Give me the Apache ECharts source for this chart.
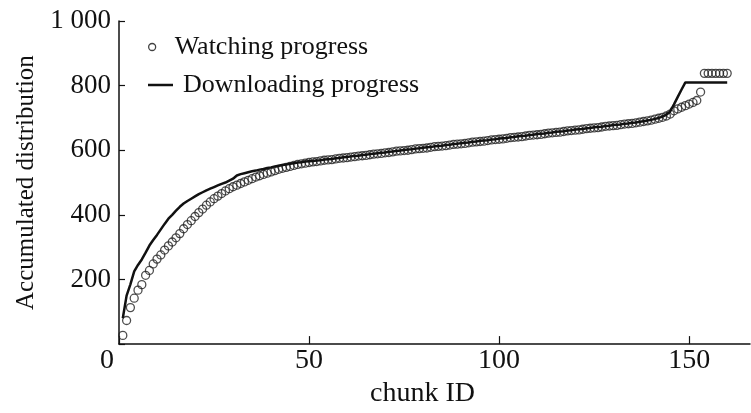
<!DOCTYPE html>
<html>
<head>
<meta charset="utf-8">
<script src="https://cdn.jsdelivr.net/npm/echarts@6/dist/echarts.min.js"></script>
<style>
  html, body { margin: 0; padding: 0; background: #fff; }
  #chart { width: 751px; height: 413px; }
</style>
</head>
<body>
<div id="chart"></div>
<script>
// Accumulated distribution per chunk (chunk IDs start at 1)
const watchingProgress = [
  27, 73, 113, 142, 167, 184, 213, 228, 248, 263,
  276, 291, 304, 316, 329, 342, 357, 370, 382, 395,
  407, 418, 430, 440, 450, 458, 466, 474, 481, 487,
  492, 497, 502, 507, 512, 517, 521, 525, 529, 533,
  537, 541, 544, 547, 550, 553, 556, 558, 560, 562,
  564, 565, 567, 569, 570, 571, 573, 575, 576, 577,
  579, 580, 582, 583, 584, 586, 588, 589, 590, 592,
  593, 595, 597, 598, 599, 600, 602, 604, 605, 606,
  607, 609, 611, 612, 613, 614, 616, 618, 619, 620,
  621, 623, 625, 626, 627, 628, 630, 632, 633, 634,
  635, 637, 639, 640, 641, 642, 644, 646, 647, 648,
  649, 651, 653, 654, 655, 656, 658, 660, 661, 662,
  663, 665, 667, 668, 669, 670, 672, 674, 675, 676,
  677, 679, 681, 682, 683, 685, 687, 689, 691, 693,
  696, 699, 702, 706, 712, 722, 728, 733, 738, 743,
  748, 754, 780, 838, 838, 838, 838, 838, 838, 838
];
const downloadingProgress = [
  80, 150, 185, 225, 245, 262, 283, 305, 322, 338,
  355, 372, 388, 400, 413, 425, 435, 443, 450, 457,
  464, 470, 476, 481, 486, 491, 496, 500, 506, 512,
  522, 526, 529, 532, 535, 537, 540, 542, 545, 547,
  550, 552, 554, 556, 558, 560, 562, 563, 565, 566,
  567, 568, 569, 571, 572, 573, 575, 576, 578, 579,
  581, 582, 583, 585, 586, 588, 589, 591, 592, 593,
  595, 596, 598, 599, 601, 602, 603, 605, 606, 608,
  609, 610, 612, 613, 614, 616, 617, 619, 620, 622,
  623, 624, 626, 627, 629, 630, 631, 633, 634, 636,
  637, 638, 640, 641, 643, 644, 645, 647, 648, 650,
  651, 652, 654, 655, 657, 658, 659, 661, 662, 664,
  665, 666, 668, 669, 671, 672, 673, 675, 676, 678,
  679, 680, 682, 683, 685, 686, 688, 690, 692, 694,
  697, 700, 704, 710, 720, 742, 765, 788, 810, 810,
  810, 810, 810, 810, 810, 810, 810, 810, 810, 810
];
const seriesNames = ['Watching progress', 'Downloading progress'];
const xTickLabels = { 0: '{o|0}', 50: '50', 100: '100', 150: '150' };
const yTickLabels = { 0: '', 200: '200', 400: '400', 600: '600', 800: '800', 1000: '1 000' };

const FONT = '"Liberation Serif", "Times New Roman", serif';
const INK = '#111';

const toPoints = arr => arr.map((v, i) => [i + 1, v]);

const legendText = { fontFamily: FONT, fontSize: 26, color: INK, padding: [0, 0, 0, 5] };

const chart = echarts.init(document.getElementById('chart'), null, { renderer: 'canvas' });
chart.setOption({
  backgroundColor: '#fff',
  animation: false,
  grid: { left: 119, right: 1, top: 21, bottom: 62, containLabel: false },
  legend: [
    {
      left: 143, top: 29,
      itemWidth: 25, itemHeight: 7,
      textStyle: legendText,
      data: [{ name: seriesNames[0], icon: 'circle',
        itemStyle: { color: 'transparent', borderColor: INK, borderWidth: 1.3 } }]
    },
    {
      left: 143, top: 67,
      itemWidth: 25, itemHeight: 2.5,
      textStyle: legendText,
      data: [{ name: seriesNames[1], icon: 'rect', itemStyle: { color: INK } }]
    }
  ],
  xAxis: {
    type: 'value',
    min: 0, max: 166, interval: 50,
    name: 'chunk ID',
    nameLocation: 'middle',
    nameGap: 27,
    nameTextStyle: { fontFamily: FONT, fontSize: 28, color: INK, padding: [0, 24, 0, 0] },
    axisLine: { lineStyle: { color: INK, width: 1.5 } },
    axisTick: { inside: true, length: 8, lineStyle: { color: INK, width: 1.2 } },
    axisLabel: {
      fontFamily: FONT, fontSize: 28, color: INK, margin: 3,
      showMaxLabel: false,
      formatter: v => xTickLabels[v] || '',
      rich: { o: { fontFamily: FONT, fontSize: 28, color: INK, padding: [0, 24, 0, 0] } }
    },
    splitLine: { show: false }
  },
  yAxis: {
    type: 'value',
    min: 0, max: 1000, interval: 200,
    name: 'Accumulated distribution',
    nameLocation: 'middle',
    nameGap: 76,
    nameRotate: 90,
    nameTextStyle: { fontFamily: FONT, fontSize: 25, color: INK },
    axisLine: { show: true, lineStyle: { color: INK, width: 1.5 } },
    axisTick: { show: true, inside: true, length: 6, lineStyle: { color: INK, width: 1.2 } },
    axisLabel: {
      fontFamily: FONT, fontSize: 27, color: INK, margin: 8,
      formatter: v => yTickLabels[v]
    },
    splitLine: { show: false }
  },
  series: [
    {
      name: seriesNames[0],
      type: 'scatter',
      symbol: 'circle',
      symbolSize: 8,
      itemStyle: { color: 'transparent', borderColor: '#222', borderWidth: 1.3 },
      data: toPoints(watchingProgress),
      z: 2
    },
    {
      name: seriesNames[1],
      type: 'line',
      showSymbol: false,
      symbol: 'none',
      lineStyle: { color: INK, width: 2.5 },
      itemStyle: { color: INK },
      data: toPoints(downloadingProgress),
      z: 3
    }
  ]
});
</script>
</body>
</html>
